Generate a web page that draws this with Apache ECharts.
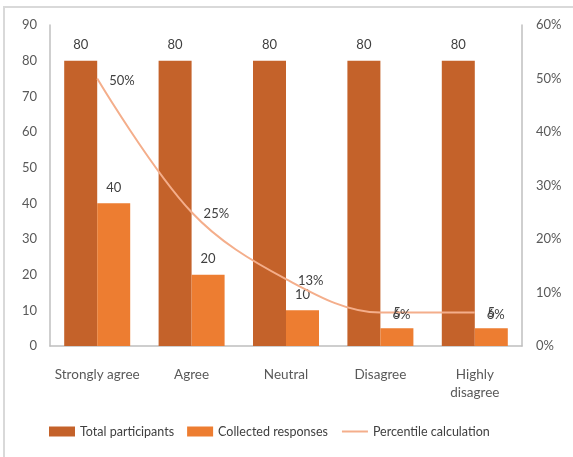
<!DOCTYPE html>
<html>
<head>
<meta charset="utf-8">
<script src="https://cdn.jsdelivr.net/npm/echarts@6/dist/echarts.min.js"></script>
<style>
  html, body { margin: 0; padding: 0; background: #ffffff; }
  #wrap { position: absolute; left: 0; top: 0; width: 573px; height: 457px; overflow: hidden; }
  #frame { position: absolute; left: 3px; top: 6px; width: 600px; height: 500px; border: 2px solid #d9d9d9; box-sizing: border-box; }
  #chart { position: absolute; left: 0; top: 0; width: 573px; height: 457px; }
</style>
</head>
<body>
<div id="wrap">
  <div id="frame"></div>
  <div id="chart"></div>
</div>
<script>
// Survey answers per response category
const categories = ['Strongly agree', 'Agree', 'Neutral', 'Disagree', 'Highly\ndisagree'];
const totalParticipants = [80, 80, 80, 80, 80];
const collectedResponses = [40, 20, 10, 5, 5];
const percentileCalc = [50, 25, 12.5, 6.25, 6.25];

const leftTicks = { min: 0, max: 90, interval: 10 };
const rightTicks = { min: 0, max: 60, interval: 10 };

const textColor = '#595959';
const labelColor = '#404040';
const lineColor = '#f4ae8b';
const fontFamily = 'Lato, "Open Sans", sans-serif';

const chart = echarts.init(document.getElementById('chart'), null, { renderer: 'canvas' });

chart.setOption({
  animation: false,
  backgroundColor: 'transparent',
  textStyle: { fontFamily: fontFamily },
  grid: { left: 50, right: 51, top: 25, bottom: 111, containLabel: false },
  legend: {
    bottom: 14,
    left: 44,
    itemWidth: 26,
    itemHeight: 10,
    itemGap: 13,
    textStyle: { color: labelColor, fontSize: 12.5, fontFamily: fontFamily },
    data: [
      { name: 'Total participants', icon: 'rect' },
      { name: 'Collected responses', icon: 'rect' },
      { name: 'Percentile calculation', itemStyle: { opacity: 0 } }
    ]
  },
  xAxis: {
    type: 'category',
    data: categories,
    axisLine: { lineStyle: { color: '#bfbfbf', width: 1.5 } },
    axisTick: { show: false },
    axisLabel: { color: textColor, fontSize: 13.5, margin: 20, lineHeight: 18, interval: 0 }
  },
  yAxis: [
    {
      type: 'value',
      min: leftTicks.min, max: leftTicks.max, interval: leftTicks.interval,
      axisLine: { show: true, lineStyle: { color: '#bfbfbf', width: 1.5 } },
      axisTick: { show: false },
      splitLine: { show: false },
      axisLabel: { color: textColor, fontSize: 13, margin: 13 }
    },
    {
      type: 'value',
      min: rightTicks.min, max: rightTicks.max, interval: rightTicks.interval,
      position: 'right',
      axisLine: { show: true, lineStyle: { color: '#bfbfbf', width: 1.5 } },
      axisTick: { show: false },
      splitLine: { show: false },
      axisLabel: { color: textColor, fontSize: 13, margin: 14, formatter: '{value}%' }
    }
  ],
  series: [
    {
      name: 'Total participants',
      type: 'bar',
      data: totalParticipants,
      barWidth: 33,
      barGap: '0%',
      itemStyle: { color: '#c4622a' },
      label: { show: true, position: 'top', distance: 9, color: labelColor, fontSize: 13 }
    },
    {
      name: 'Collected responses',
      type: 'bar',
      data: collectedResponses,
      barWidth: 33,
      barGap: '0%',
      itemStyle: { color: '#ed7d31' },
      label: { show: true, position: 'top', distance: 9, color: labelColor, fontSize: 13 }
    },
    {
      name: 'Percentile calculation',
      type: 'line',
      yAxisIndex: 1,
      data: percentileCalc,
      smooth: 0.35,
      symbol: 'none',
      z: 5,
      lineStyle: { color: lineColor, width: 2 },
      itemStyle: { color: lineColor }
    },
    {
      // percentage labels placed on the line's points
      name: 'Percentile labels',
      type: 'scatter',
      yAxisIndex: 1,
      data: percentileCalc,
      symbolSize: 0,
      z: 6,
      silent: true,
      itemStyle: { color: lineColor, opacity: 1 },
      label: {
        show: true,
        position: 'right',
        distance: 12,
        offset: [0, 2],
        color: labelColor,
        opacity: 1,
        fontSize: 13,
        formatter: p => Math.round(p.value) + '%'
      }
    }
  ]
});
</script>
</body>
</html>
